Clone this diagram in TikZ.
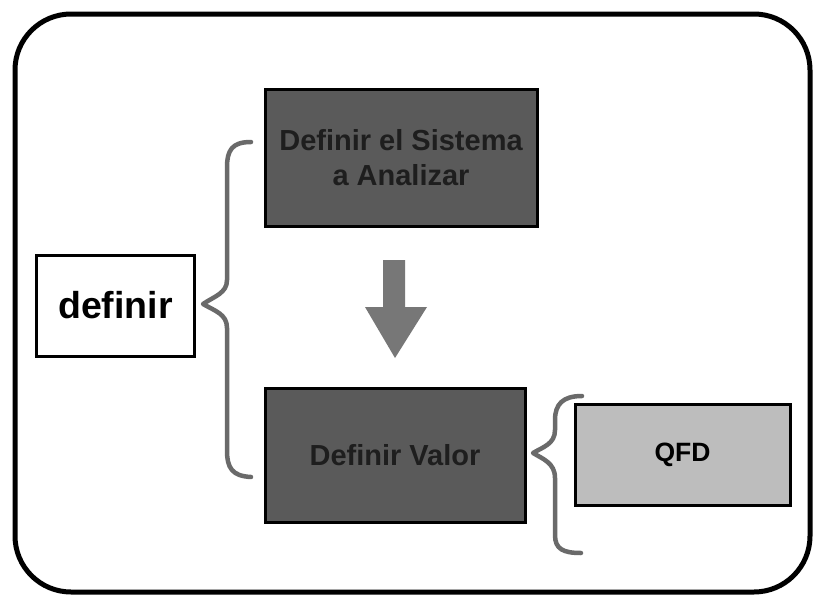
\documentclass[tikz,border=0pt]{standalone}
\usepackage{fontspec}
\setmainfont{Liberation Sans}
\definecolor{darkbox}{HTML}{5A5A5A}
\definecolor{lightbox}{HTML}{BDBDBD}
\definecolor{bracegray}{HTML}{6A6A6A}
\definecolor{arrowgray}{HTML}{777777}
\definecolor{boxtext}{HTML}{1E1E1E}
\tikzset{
  darkstep/.style={draw=black, line width=3pt, fill=darkbox, text=boxtext,
    font=\bfseries\fontsize{29}{35}\selectfont, align=center, inner sep=0pt},
  lightstep/.style={draw=black, line width=3pt, fill=lightbox, text=black,
    font=\bfseries\fontsize{26.5}{30}\selectfont, inner sep=0pt},
  labelbox/.style={draw=black, line width=3pt, fill=white, text=black,
    font=\bfseries\fontsize{37.5}{42}\selectfont, inner sep=0pt},
  bracestroke/.style={draw=bracegray, line width=4.5pt, line cap=round, line join=round},
}
\begin{document}
\begin{tikzpicture}[x=1pt, y=-1pt]
  \useasboundingbox (0,0) rectangle (814,597);
  \fill[white] (0,0) rectangle (814,597);
  % outer frame
  \draw[line width=5pt, rounded corners=56pt] (15,14) rectangle (810,592);

  % step boxes
  \node[darkstep, minimum width=272pt, minimum height=137pt] (sistema) at (401,157.5)
    {Definir el Sistema\\a Analizar};
  \node[darkstep, minimum width=260pt, minimum height=134pt] (valor) at (395,455)
    {Definir Valor};
  \node[lightstep, minimum width=215pt, minimum height=101pt] (qfd) at (682.5,454.5)
    {QFD};
  \node[labelbox, minimum width=158pt, minimum height=101pt] (definir) at (115.5,305.5)
    {definir};

  % downward arrow between the steps
  \coordinate (arrtop) at (394,260);
  \coordinate (arrtip) at (395,358);
  \fill[arrowgray] (383,260) -- (405,260) -- (405,307) -- (427,307)
    -- (arrtip) -- (365,307) -- (383,307) -- cycle;

  % left brace grouping both steps
  \draw[bracestroke] (251,142) .. controls (232,142) and (227,150) .. (227,168)
    -- (227,280) .. controls (227,293) and (215,296) .. (203,304)
    .. controls (215,311) and (227,314) .. (227,328)
    -- (227,450) .. controls (227,468) and (232,476) .. (251,477);
  % right brace pointing at the value step
  \draw[bracestroke] (582,396) .. controls (563,396) and (555,404) .. (555,420)
    -- (555,430) .. controls (555,444) and (543,447) .. (533,453)
    .. controls (543,459) and (555,463) .. (555,478)
    -- (555,535) .. controls (555,549) and (563,553) .. (581,553);
\end{tikzpicture}
\end{document}
